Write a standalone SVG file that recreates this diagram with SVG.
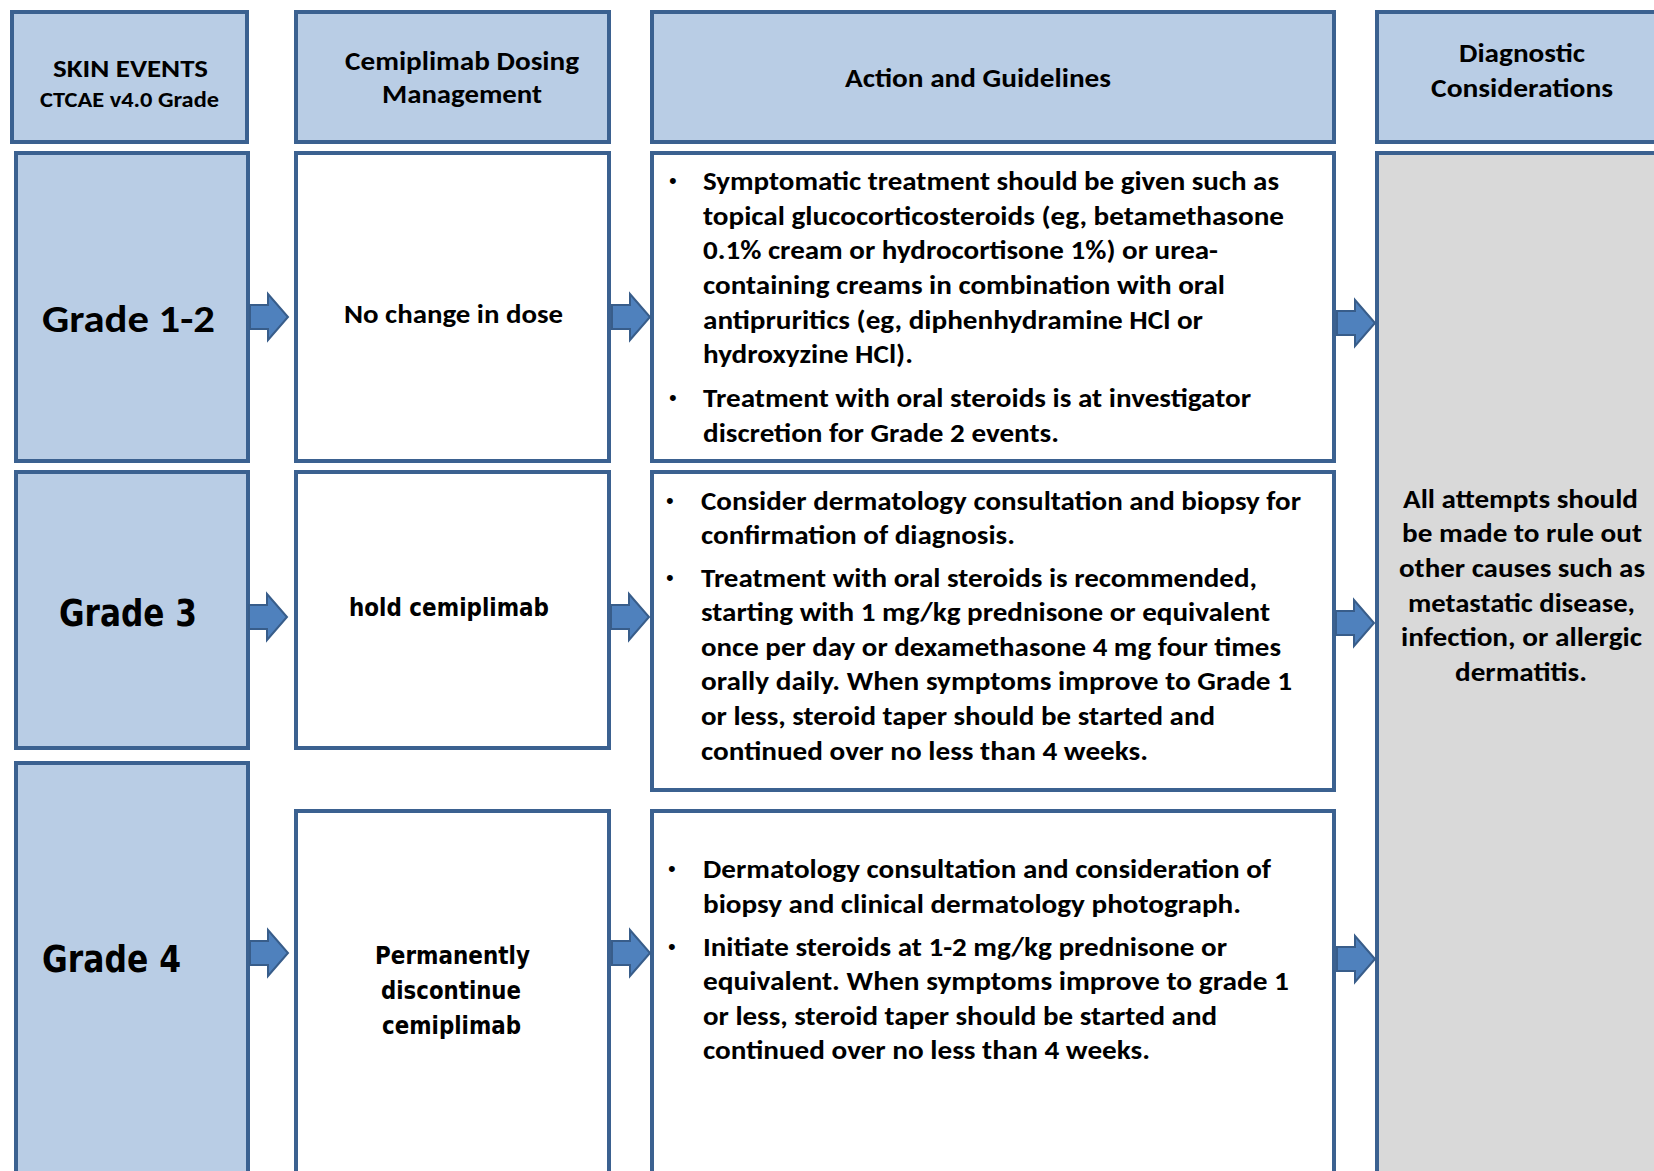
<svg xmlns="http://www.w3.org/2000/svg" xmlns:xlink="http://www.w3.org/1999/xlink" width="1654" height="1171" viewBox="0 0 1654 1171" xml:space="preserve">
  <style>
    .hdr { fill: #b9cde5; stroke: #3b6190; stroke-width: 4; }
    .cell { fill: #ffffff; stroke: #3b6190; stroke-width: 4; }
    .grey { fill: #d9d9d9; stroke: #3b6190; stroke-width: 4; }
    .arrow { fill: #4f81bd; stroke: #385d8a; stroke-width: 2; stroke-linejoin: miter; }
    .t { font-family: Carlito, Lato, "Liberation Sans", sans-serif; font-weight: bold; fill: #000; white-space: pre; }
    .v { font-family: "DejaVu Sans", Verdana, sans-serif; font-weight: bold; fill: #000; }
    .s26 { font-size: 26px; }
    .s25 { font-size: 25px; }
    .s22 { font-size: 22px; }
    .b { font-family: "Liberation Sans", sans-serif; font-size: 22px; fill: #000; }
  </style>
  <defs>
    <!-- block arrow pointing right, 38 x 48 -->
    <path id="blockArrow" class="arrow" d="M0,12 H18 V1 L38,24 L18,47 V36 H0 Z"/>
  </defs>

  <rect width="1654" height="1171" fill="#ffffff"/>

  <!-- column headers -->
  <g id="hdr-skin-events">
    <rect class="hdr" x="12" y="12" width="235" height="130"/>
    <text class="t s25" x="53" y="77" textLength="155" lengthAdjust="spacingAndGlyphs">SKIN EVENTS</text>
    <text class="t s22" x="40" y="107" textLength="179" lengthAdjust="spacingAndGlyphs">CTCAE v4.0 Grade</text>
  </g>
  <g id="hdr-dosing">
    <rect class="hdr" x="296" y="12" width="313" height="130"/>
    <text class="t s26" x="345" y="70" textLength="234" lengthAdjust="spacingAndGlyphs">Cemiplimab Dosing</text>
    <text class="t s26" x="382" y="103" textLength="160" lengthAdjust="spacingAndGlyphs">Management</text>
  </g>
  <g id="hdr-action">
    <rect class="hdr" x="652" y="12" width="682" height="130"/>
    <text class="t s26" x="845" y="87" textLength="266" lengthAdjust="spacingAndGlyphs">Action and Guidelines</text>
  </g>
  <g id="hdr-diagnostic">
    <rect class="hdr" x="1377" y="12" width="300" height="130"/>
    <text class="t s26" x="1459" y="62" textLength="126" lengthAdjust="spacingAndGlyphs">Diagnostic</text>
    <text class="t s26" x="1431" y="97" textLength="182" lengthAdjust="spacingAndGlyphs">Considerations</text>
  </g>

  <!-- grade column -->
  <g id="grade-1-2">
    <rect class="hdr" x="16" y="153" width="232" height="308"/>
    <text class="t" style="font-size:39px" x="42" y="332" textLength="173" lengthAdjust="spacingAndGlyphs">Grade 1-2</text>
  </g>
  <g id="grade-3">
    <rect class="hdr" x="16" y="472" width="232" height="276"/>
    <text class="v" style="font-size:38px" x="59" y="626" textLength="138" lengthAdjust="spacingAndGlyphs">Grade 3</text>
  </g>
  <g id="grade-4">
    <rect class="hdr" x="16" y="763" width="232" height="440"/>
    <text class="v" style="font-size:38px" x="42" y="972" textLength="139" lengthAdjust="spacingAndGlyphs">Grade 4</text>
  </g>

  <!-- dosing column -->
  <g id="dose-1-2">
    <rect class="cell" x="296" y="153" width="313" height="308"/>
    <text class="t s26" x="344" y="323" textLength="219" lengthAdjust="spacingAndGlyphs">No change in dose</text>
  </g>
  <g id="dose-3">
    <rect class="cell" x="296" y="472" width="313" height="276"/>
    <text class="v s25" x="349" y="616" textLength="200" lengthAdjust="spacingAndGlyphs">hold cemiplimab</text>
  </g>
  <g id="dose-4">
    <rect class="cell" x="296" y="811" width="313" height="392"/>
    <text class="v s25" x="375" y="964" textLength="155" lengthAdjust="spacingAndGlyphs">Permanently</text>
    <text class="v s25" x="381" y="999" textLength="140" lengthAdjust="spacingAndGlyphs">discontinue</text>
    <text class="v s25" x="382" y="1034" textLength="139" lengthAdjust="spacingAndGlyphs">cemiplimab</text>
  </g>

  <!-- action column -->
  <g id="action-1-2">
    <rect class="cell" x="652" y="153" width="682" height="308"/>
    <text class="b" x="669" y="188">•</text>
    <text class="b" x="669" y="405">•</text>
    <g class="t s26">
      <text x="703" y="190" textLength="576" lengthAdjust="spacingAndGlyphs">Symptomatic treatment should be given  such as</text>
      <text x="703" y="225" textLength="581" lengthAdjust="spacingAndGlyphs">topical glucocorticosteroids (eg,  betamethasone</text>
      <text x="703" y="259" textLength="515" lengthAdjust="spacingAndGlyphs">0.1% cream or hydrocortisone 1%) or urea-</text>
      <text x="703" y="294" textLength="522" lengthAdjust="spacingAndGlyphs">containing creams in combination with oral</text>
      <text x="703" y="329" textLength="500" lengthAdjust="spacingAndGlyphs">antipruritics (eg,  diphenhydramine HCl or</text>
      <text x="703" y="363" textLength="210" lengthAdjust="spacingAndGlyphs">hydroxyzine HCl).</text>
      <text x="703" y="407" textLength="548" lengthAdjust="spacingAndGlyphs">Treatment with oral steroids is at investigator</text>
      <text x="703" y="442" textLength="356" lengthAdjust="spacingAndGlyphs">discretion for Grade 2 events.</text>
    </g>
  </g>
  <g id="action-3">
    <rect class="cell" x="652" y="472" width="682" height="318"/>
    <text class="b" x="666" y="508">•</text>
    <text class="b" x="666" y="585">•</text>
    <g class="t s26">
      <text x="701" y="510" textLength="600" lengthAdjust="spacingAndGlyphs">Consider dermatology consultation and biopsy for</text>
      <text x="701" y="544" textLength="314" lengthAdjust="spacingAndGlyphs">confirmation of diagnosis.</text>
      <text x="701" y="587" textLength="556" lengthAdjust="spacingAndGlyphs">Treatment with oral steroids is recommended,</text>
      <text x="701" y="621" textLength="569" lengthAdjust="spacingAndGlyphs">starting with 1 mg/kg prednisone or equivalent</text>
      <text x="701" y="656" textLength="580" lengthAdjust="spacingAndGlyphs">once per day or dexamethasone 4 mg four times</text>
      <text x="701" y="690" textLength="591" lengthAdjust="spacingAndGlyphs">orally daily.  When symptoms improve to Grade 1</text>
      <text x="701" y="725" textLength="514" lengthAdjust="spacingAndGlyphs">or less, steroid taper should be started and</text>
      <text x="701" y="760" textLength="447" lengthAdjust="spacingAndGlyphs">continued over no less than 4 weeks.</text>
    </g>
  </g>
  <g id="action-4">
    <rect class="cell" x="652" y="811" width="682" height="392"/>
    <text class="b" x="668" y="876">•</text>
    <text class="b" x="668" y="954">•</text>
    <g class="t s26">
      <text x="703" y="878" textLength="568" lengthAdjust="spacingAndGlyphs">Dermatology consultation and consideration of</text>
      <text x="703" y="913" textLength="538" lengthAdjust="spacingAndGlyphs">biopsy and clinical dermatology photograph.</text>
      <text x="703" y="956" textLength="524" lengthAdjust="spacingAndGlyphs">Initiate steroids at 1-2 mg/kg prednisone or</text>
      <text x="703" y="990" textLength="586" lengthAdjust="spacingAndGlyphs">equivalent.  When symptoms improve to grade 1</text>
      <text x="703" y="1025" textLength="514" lengthAdjust="spacingAndGlyphs">or less, steroid taper should be started and</text>
      <text x="703" y="1059" textLength="447" lengthAdjust="spacingAndGlyphs">continued over no less than 4 weeks.</text>
    </g>
  </g>

  <!-- diagnostic considerations (spans all grades) -->
  <g id="diagnostic">
    <rect class="grey" x="1377" y="153" width="300" height="1050"/>
    <g class="t s26">
      <text x="1403" y="508" textLength="235" lengthAdjust="spacingAndGlyphs">All attempts should</text>
      <text x="1402" y="542" textLength="240" lengthAdjust="spacingAndGlyphs">be made to rule out</text>
      <text x="1399" y="577" textLength="246" lengthAdjust="spacingAndGlyphs">other causes such as</text>
      <text x="1408" y="612" textLength="227" lengthAdjust="spacingAndGlyphs">metastatic disease,</text>
      <text x="1401" y="646" textLength="241" lengthAdjust="spacingAndGlyphs">infection, or allergic</text>
      <text x="1455" y="681" textLength="132" lengthAdjust="spacingAndGlyphs">dermatitis.</text>
    </g>
  </g>

  <!-- connectors: block arrows between columns -->
  <g id="connectors">
    <use xlink:href="#blockArrow" href="#blockArrow" x="250" y="293"/>
    <use xlink:href="#blockArrow" href="#blockArrow" x="612" y="293"/>
    <use xlink:href="#blockArrow" href="#blockArrow" x="1337" y="299"/>
    <use xlink:href="#blockArrow" href="#blockArrow" x="249" y="593"/>
    <use xlink:href="#blockArrow" href="#blockArrow" x="611" y="593"/>
    <use xlink:href="#blockArrow" href="#blockArrow" x="1336" y="599"/>
    <use xlink:href="#blockArrow" href="#blockArrow" x="250" y="929"/>
    <use xlink:href="#blockArrow" href="#blockArrow" x="612" y="929"/>
    <use xlink:href="#blockArrow" href="#blockArrow" x="1337" y="935"/>
  </g>
</svg>
